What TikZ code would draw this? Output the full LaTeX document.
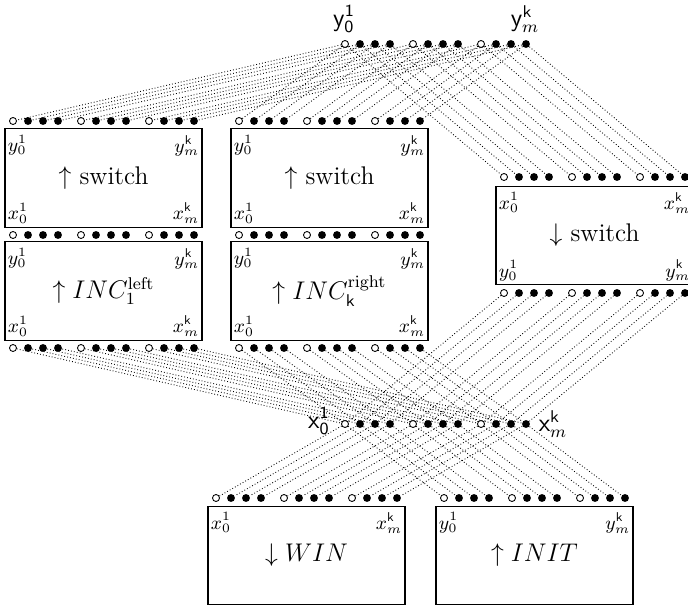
\documentclass[tikz,border=0pt]{standalone}
\usepackage{amsmath}

% a row of twelve pins: three groups of one open and three filled dots
\newcommand{\pinrow}[3]{%
  \foreach \g in {0,1,2}{%
    \foreach \j/\s in {0/opendot,1/fulldot,2/fulldot,3/fulldot}{%
      \pgfmathtruncatemacro{\k}{4*\g+\j+1}%
      \node[\s] (#1-\k) at ({#2+\g*68+\j*15},#3) {};%
    }%
  }%
}
% pin i of one row wired to pin i of another
\newcommand{\wires}[2]{%
  \foreach \k in {1,...,12}{\draw[wire] (#1-\k) -- (#2-\k);}%
}
% a block with its four corner labels
\newcommand{\blockbox}[7]{%
  \node[blk] (#1) at (#2) {#3};
  \node[tlab,anchor=north west] (#1-tl) at (#1.north west) {#4};
  \node[tlab,anchor=north east] (#1-tr) at (#1.north east) {#5};
  \node[blab,anchor=south west] (#1-bl) at (#1.south west) {#6};
  \node[blab,anchor=south east] (#1-br) at (#1.south east) {#7};
}

\begin{document}
\begin{tikzpicture}[x=0.47pt,y=-0.47pt,
  fulldot/.style={circle,fill=black,inner sep=0pt,minimum size=3.7pt},
  opendot/.style={circle,draw=black,fill=white,line width=0.4pt,inner sep=0pt,minimum size=3.3pt},
  wire/.style={densely dotted,line width=0.4pt},
  blk/.style={draw,line width=0.5pt,minimum width=92.6pt,minimum height=46.1pt,inner sep=0pt,font=\large},
  tlab/.style={inner xsep=1.4pt,inner ysep=3pt,font=\small},
  blab/.style={inner xsep=1.4pt,inner ysep=1.8pt,font=\small},
  biglab/.style={inner sep=0pt,font=\large}]
\clip (0,0) rectangle (688,608);

% blocks
\blockbox{L1}{103.5,178}{$\uparrow$ switch}{$y_0^1$}{$y_m^{\mathsf{k}}$}{$x_0^1$}{$x_m^{\mathsf{k}}$}
\blockbox{L2}{103.5,291}{$\uparrow INC_1^{\mathrm{left}}$}{$y_0^1$}{$y_m^{\mathsf{k}}$}{$x_0^1$}{$x_m^{\mathsf{k}}$}
\blockbox{M1}{329.5,178}{$\uparrow$ switch}{$y_0^1$}{$y_m^{\mathsf{k}}$}{$x_0^1$}{$x_m^{\mathsf{k}}$}
\blockbox{M2}{329.5,291}{$\uparrow INC_{\mathsf{k}}^{\mathrm{right}}$}{$y_0^1$}{$y_m^{\mathsf{k}}$}{$x_0^1$}{$x_m^{\mathsf{k}}$}
\blockbox{R}{594.5,235.5}{$\downarrow$ switch}{$x_0^1$}{$x_m^{\mathsf{k}}$}{$y_0^1$}{$y_m^{\mathsf{k}}$}

% bottom blocks (labels on top only)
\node[blk] (W) at (306.5,555.5) {$\downarrow WIN$};
\node[tlab,anchor=north west] (W-tl) at (W.north west) {$x_0^1$};
\node[tlab,anchor=north east] (W-tr) at (W.north east) {$x_m^{\mathsf{k}}$};
\node[blk] (I) at (534.5,555.5) {$\uparrow INIT$};
\node[tlab,anchor=north west] (I-tl) at (I.north west) {$y_0^1$};
\node[tlab,anchor=north east] (I-tr) at (I.north east) {$y_m^{\mathsf{k}}$};

% pin rows
\pinrow{T}{345}{44}
\pinrow{X}{345}{424}
\pinrow{L1t}{13}{121}
\pinrow{LM}{13}{235}
\pinrow{L2b}{13}{348}
\pinrow{M1t}{239}{121}
\pinrow{MM}{239}{235}
\pinrow{M2b}{239}{348}
\pinrow{Rt}{504}{177}
\pinrow{Rb}{504}{293}
\pinrow{Wt}{216}{498}
\pinrow{It}{444}{498}

% bus labels
\node[biglab] (ylo) at (344,19) {$\mathsf{y}_{\mathsf{0}}^{\mathsf{1}}$};
\node[biglab] (yhi) at (525,19) {$\mathsf{y}_m^{\mathsf{k}}$};
\node[biglab] (xlo) at (319,421) {$\mathsf{x}_{\mathsf{0}}^{\mathsf{1}}$};
\node[biglab] (xhi) at (553,424) {$\mathsf{x}_m^{\mathsf{k}}$};

% wiring
\wires{T}{L1t}
\wires{T}{M1t}
\wires{T}{Rt}
\wires{Rb}{X}
\wires{L2b}{X}
\wires{M2b}{X}
\wires{X}{Wt}
\wires{X}{It}
\end{tikzpicture}
\end{document}
